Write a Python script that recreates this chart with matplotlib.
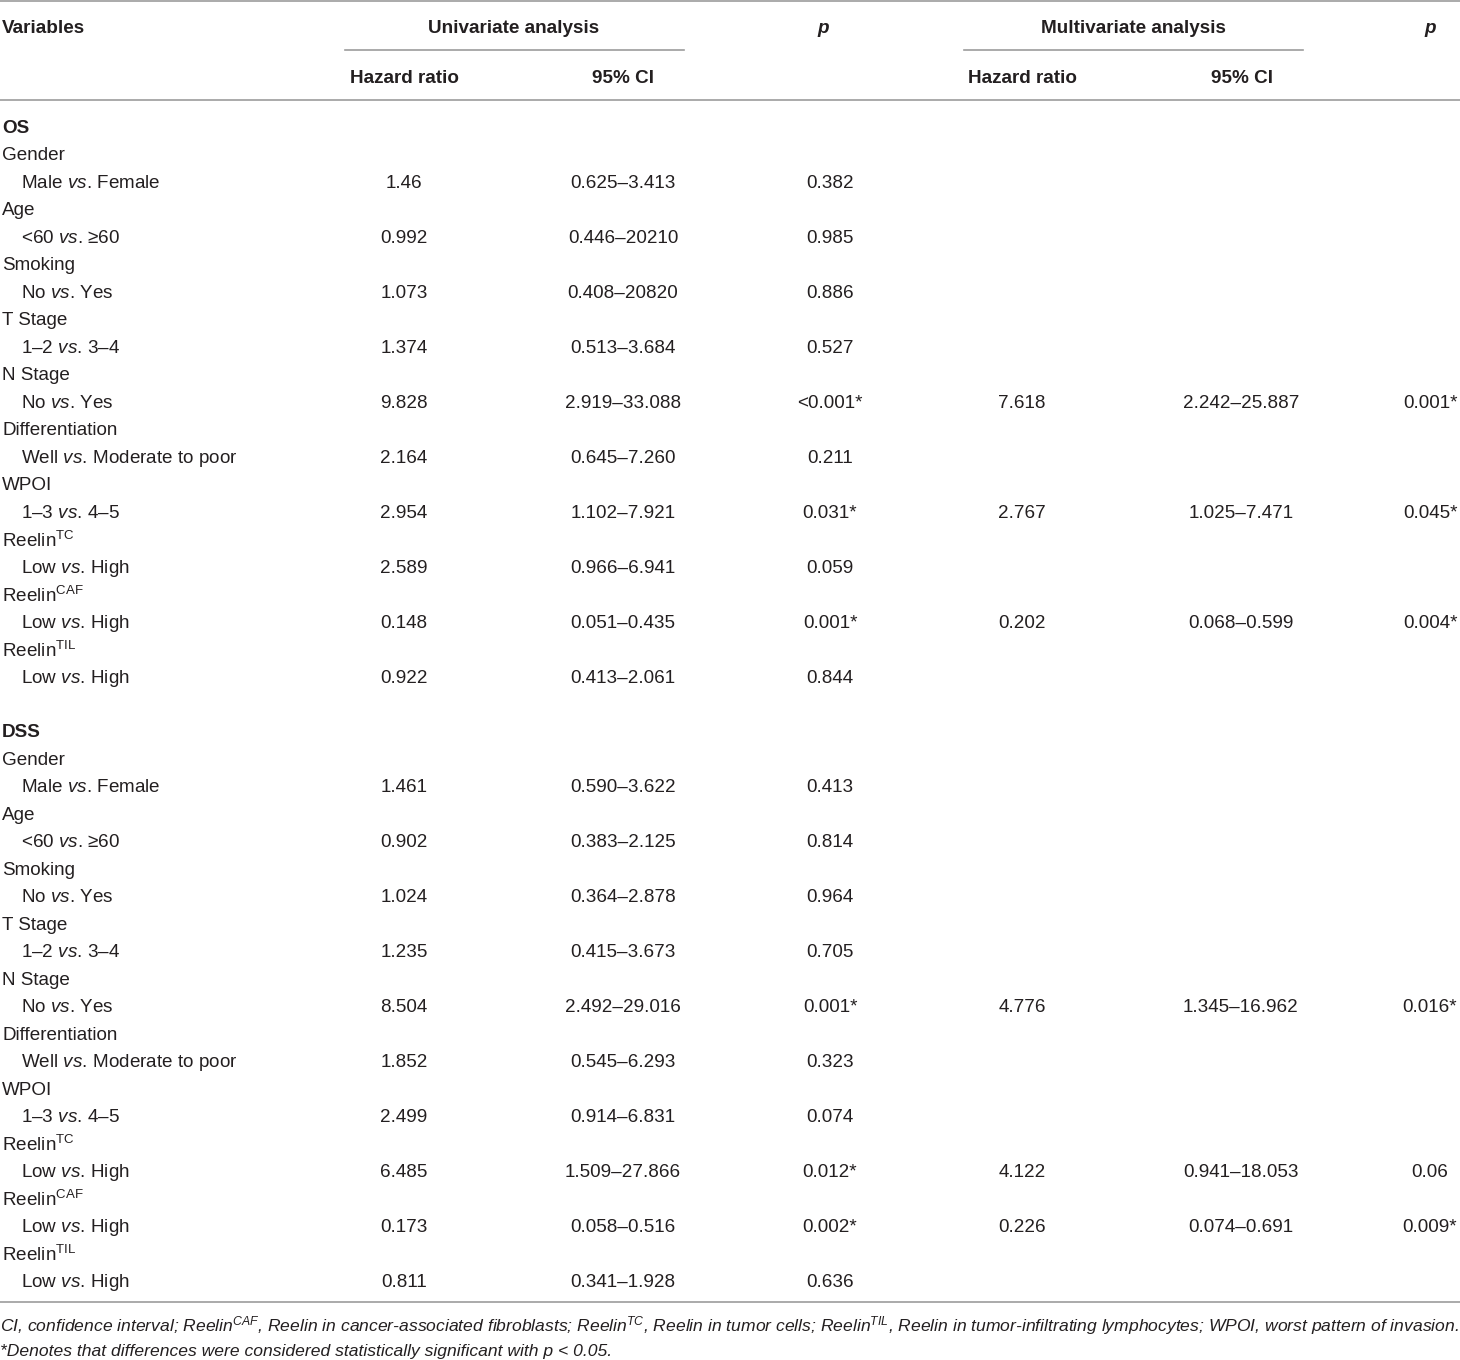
import matplotlib
matplotlib.use("Agg")
import matplotlib.pyplot as plt
from matplotlib import font_manager as fm


def pick_font(names):
    for n in names:
        try:
            fm.findfont(fm.FontProperties(family=n), fallback_to_default=False)
            return n
        except ValueError:
            pass
    return "DejaVu Sans"


FONT = pick_font(["Liberation Sans Narrow", "Liberation Sans", "Arial"])
plt.rcParams["font.family"] = [FONT, "DejaVu Sans"]
plt.rcParams["mathtext.fontset"] = "custom"
plt.rcParams["mathtext.rm"] = FONT
plt.rcParams["mathtext.it"] = FONT + ":italic"
plt.rcParams["mathtext.bf"] = FONT + ":bold"

# ---- table data ----
variables = ["Gender", "Age", "Smoking", "T Stage", "N Stage", "Differentiation",
             "WPOI", r"Reelin$^{\mathrm{TC}}$", r"Reelin$^{\mathrm{CAF}}$", r"Reelin$^{\mathrm{TIL}}$"]
comparisons = [r"Male $\mathit{vs}$. Female", r"<60 $\mathit{vs}$. ≥60", r"No $\mathit{vs}$. Yes",
               r"1–2 $\mathit{vs}$. 3–4", r"No $\mathit{vs}$. Yes",
               r"Well $\mathit{vs}$. Moderate to poor", r"1–3 $\mathit{vs}$. 4–5",
               r"Low $\mathit{vs}$. High", r"Low $\mathit{vs}$. High", r"Low $\mathit{vs}$. High"]

os_uni_hr = ["1.46", "0.992", "1.073", "1.374", "9.828", "2.164", "2.954", "2.589", "0.148", "0.922"]
os_uni_ci = ["0.625–3.413", "0.446–20210", "0.408–20820", "0.513–3.684", "2.919–33.088",
             "0.645–7.260", "1.102–7.921", "0.966–6.941", "0.051–0.435", "0.413–2.061"]
os_uni_p = ["0.382", "0.985", "0.886", "0.527", "<0.001*", "0.211", "0.031*", "0.059", "0.001*", "0.844"]
os_multi_hr = ["", "", "", "", "7.618", "", "2.767", "", "0.202", ""]
os_multi_ci = ["", "", "", "", "2.242–25.887", "", "1.025–7.471", "", "0.068–0.599", ""]
os_multi_p = ["", "", "", "", "0.001*", "", "0.045*", "", "0.004*", ""]

dss_uni_hr = ["1.461", "0.902", "1.024", "1.235", "8.504", "1.852", "2.499", "6.485", "0.173", "0.811"]
dss_uni_ci = ["0.590–3.622", "0.383–2.125", "0.364–2.878", "0.415–3.673", "2.492–29.016",
              "0.545–6.293", "0.914–6.831", "1.509–27.866", "0.058–0.516", "0.341–1.928"]
dss_uni_p = ["0.413", "0.814", "0.964", "0.705", "0.001*", "0.323", "0.074", "0.012*", "0.002*", "0.636"]
dss_multi_hr = ["", "", "", "", "4.776", "", "", "4.122", "0.226", ""]
dss_multi_ci = ["", "", "", "", "1.345–16.962", "", "", "0.941–18.053", "0.074–0.691", ""]
dss_multi_p = ["", "", "", "", "0.016*", "", "", "0.06", "0.009*", ""]

footnotes = [
    r"CI, confidence interval; Reelin$^{CAF}$, Reelin in cancer-associated fibroblasts; "
    r"Reelin$^{TC}$, Reelin in tumor cells; Reelin$^{TIL}$, Reelin in tumor-infiltrating lymphocytes; "
    r"WPOI, worst pattern of invasion.",
    "*Denotes that differences were considered statistically significant with p < 0.05.",
]

# ---- layout ----
W, H = 1460, 1360
TXT = "#231f20"
LINE = "#9c9c9c"
FS = 13.6
DY = 2.5
col_x = [404, 623, 830, 1022, 1241, 1430]
row0, pitch = 126, 27.476

fig = plt.figure(figsize=(W / 100, H / 100), dpi=100)
ax = fig.add_axes([0, 0, 1, 1])
ax.set_xlim(0, W)
ax.set_ylim(H, 0)
ax.axis("off")

# rules
ax.plot([0, W], [1, 1], color=LINE, lw=1.2)
ax.plot([345, 684], [50, 50], color=LINE, lw=1.2)
ax.plot([964, 1303], [50, 50], color=LINE, lw=1.2)
ax.plot([0, W], [100, 100], color=LINE, lw=1.2)
ax.plot([0, W], [1302, 1302], color=LINE, lw=1.2)

# headers
hkw = dict(fontsize=FS, color=TXT, fontweight="bold", va="center")
ax.text(2, 26 + DY, "Variables", ha="left", **hkw)
ax.text(514, 26 + DY, "Univariate analysis", ha="center", **hkw)
ax.text(823, 26 + DY, "p", ha="center", style="italic", **hkw)
ax.text(1133, 26 + DY, "Multivariate analysis", ha="center", **hkw)
ax.text(1430, 26 + DY, "p", ha="center", style="italic", **hkw)
for cx, lab in zip([404, 623, 1023, 1242], ["Hazard ratio", "95% CI", "Hazard ratio", "95% CI"]):
    ax.text(cx, 76 + DY, lab, ha="center", **hkw)

tkw = dict(fontsize=FS, color=TXT, va="center")
sections = [
    ("OS", 0, [os_uni_hr, os_uni_ci, os_uni_p, os_multi_hr, os_multi_ci, os_multi_p]),
    ("DSS", 22, [dss_uni_hr, dss_uni_ci, dss_uni_p, dss_multi_hr, dss_multi_ci, dss_multi_p]),
]
for name, start, cols in sections:
    ax.text(2, row0 + start * pitch + DY, name, ha="left", fontweight="bold", **tkw)
    for k in range(len(variables)):
        y_var = row0 + (start + 1 + 2 * k) * pitch + DY
        y_cmp = y_var + pitch
        ax.text(2, y_var, variables[k], ha="left", **tkw)
        ax.text(21, y_cmp, comparisons[k], ha="left", **tkw)
        for cx, values in zip(col_x, cols):
            if values[k]:
                ax.text(cx, y_cmp, values[k], ha="center", **tkw)

# footnotes, shrunk so the first line spans the table width
fkw = dict(color=TXT, va="center", ha="left", style="italic")
f1 = ax.text(0, 1323 + DY, footnotes[0], fontsize=FS, **fkw)
renderer = fig.canvas.get_renderer()
span = f1.get_window_extent(renderer).width
ffs = FS * min(1.0, 1456 / span)
f1.set_fontsize(ffs)
ax.text(0, 1349 + DY, footnotes[1], fontsize=ffs, **fkw)

fig.savefig("out.png", dpi=100, facecolor="white")
